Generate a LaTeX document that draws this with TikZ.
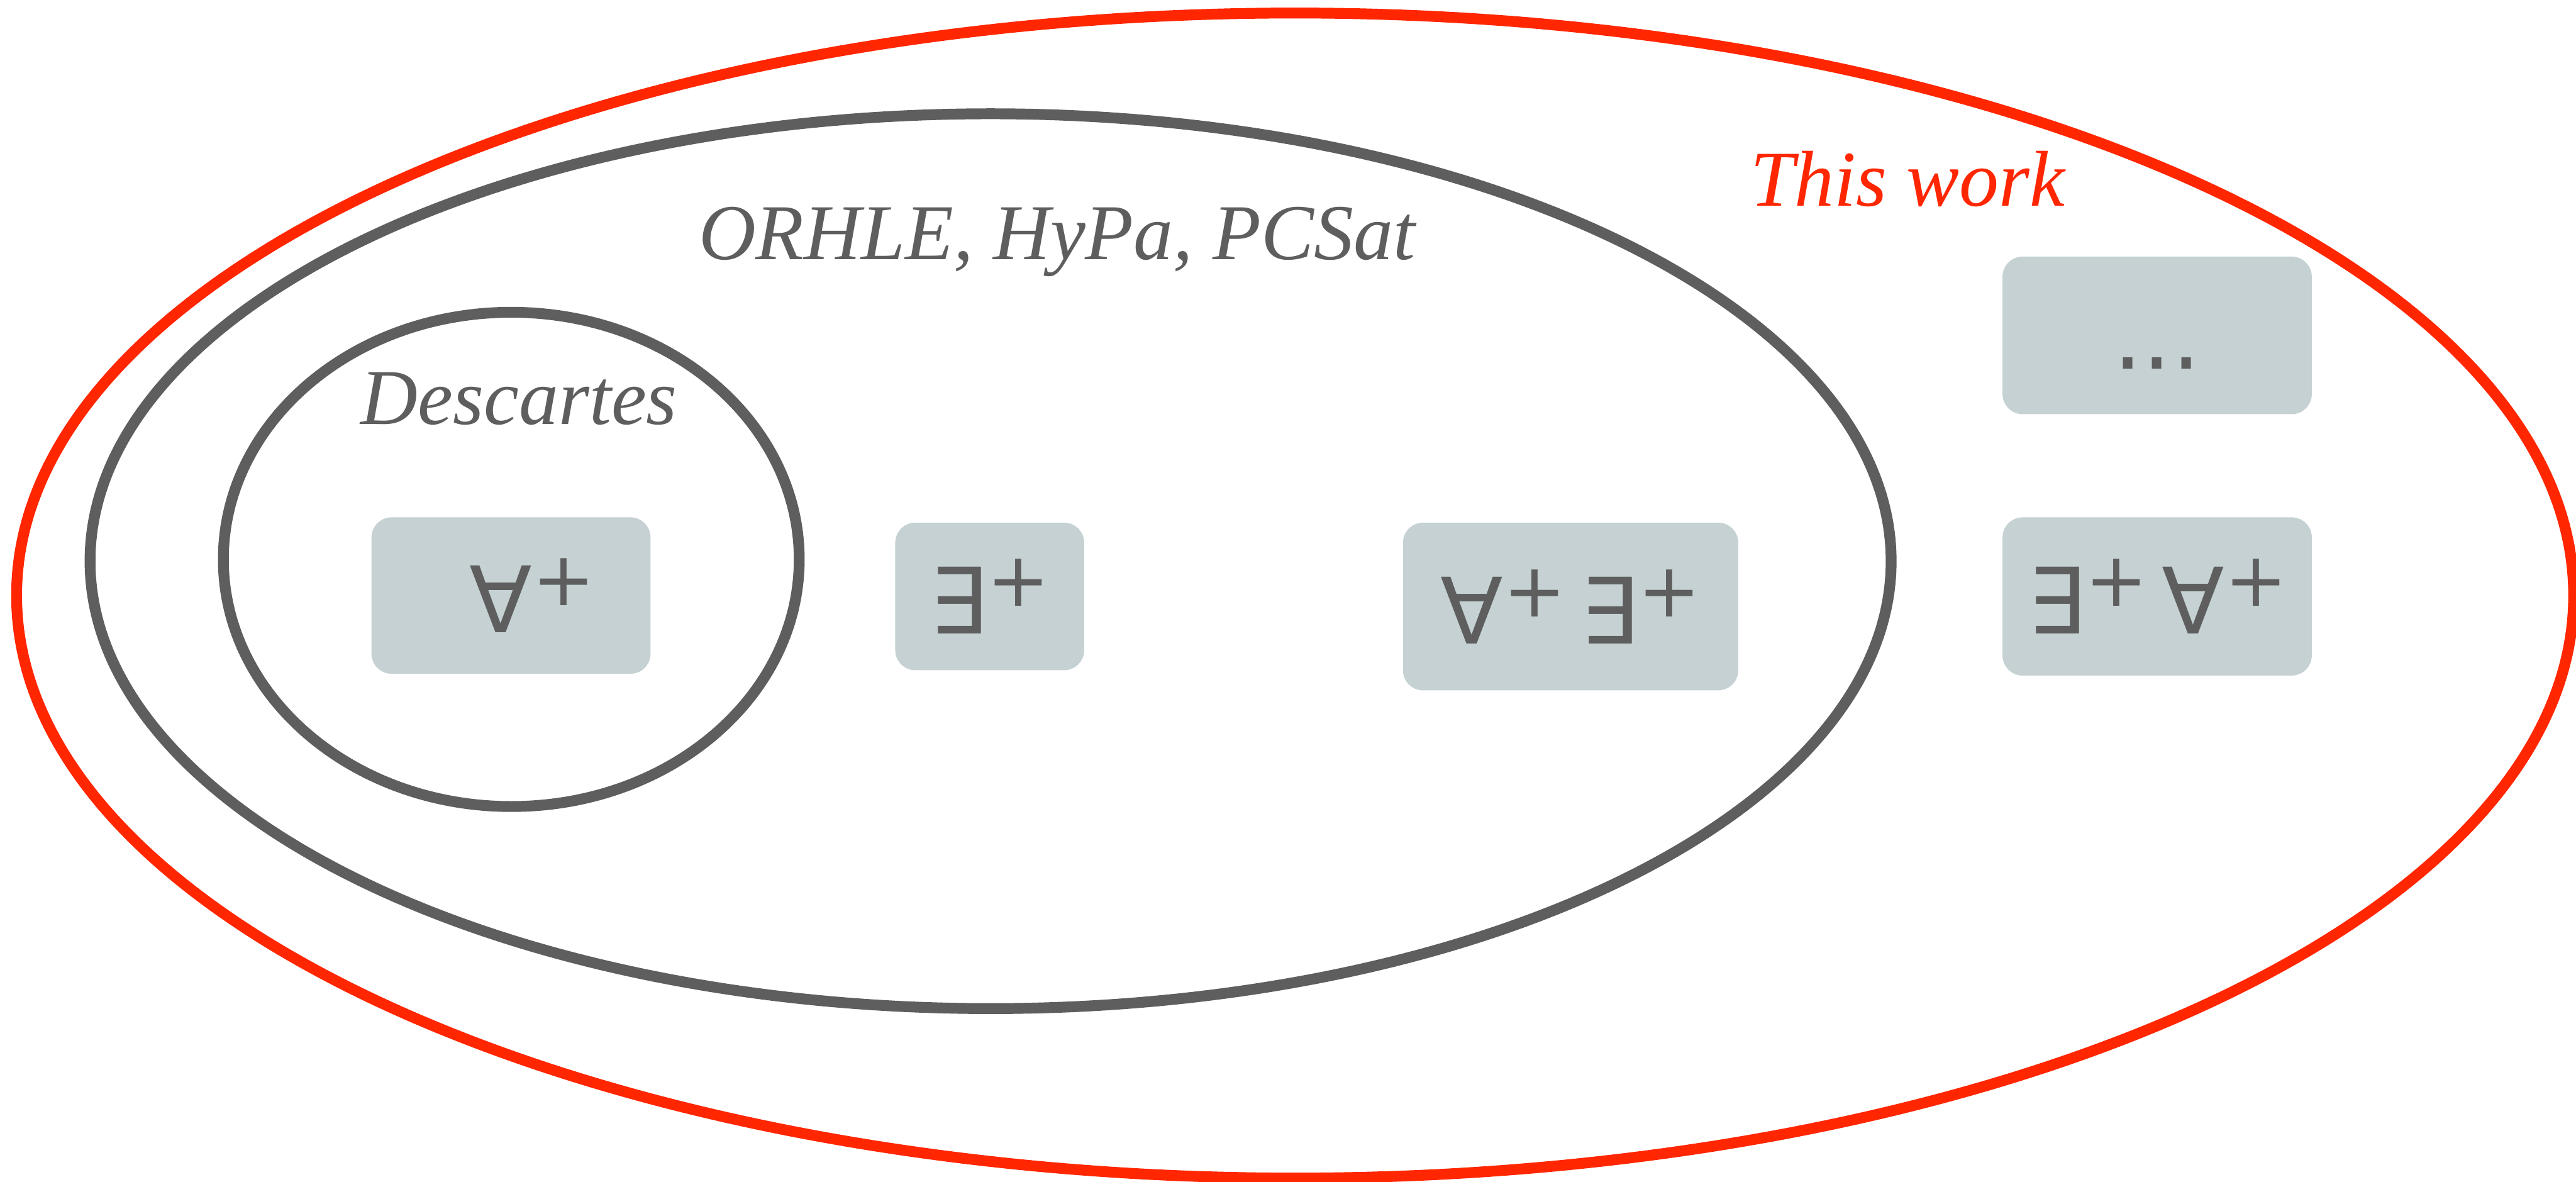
\documentclass[tikz,border=0pt]{standalone}
\usepackage{fontspec}
\setmainfont{Liberation Serif}
\newfontfamily\quantfont{DejaVu Sans}

\definecolor{linegrey}{HTML}{5E5E5E}
\definecolor{workred}{HTML}{FF2600}
\definecolor{boxfill}{HTML}{C5D1D3}

% raised plus after a quantifier
\newcommand{\qplus}{\raisebox{6.5pt}{\fontsize{18}{18}\selectfont +}}

\begin{document}
\begin{tikzpicture}[
    set/.style={draw=linegrey, line width=2.6pt},
    work/.style={draw=workred, line width=2.6pt},
    tool/.style={anchor=base, text=linegrey, font=\fontsize{19}{19}\selectfont\itshape},
    frag/.style={fill=boxfill, rounded corners=0.17cm, inner sep=0pt,
        text=linegrey, font=\quantfont\fontsize{22}{22}\selectfont}
]
    \useasboundingbox (0,0) rectangle (21.74,-9.97);

    % Nested classes (outer one is this work)
    \draw[work] (10.93,-5.025) ellipse (10.79 and 4.915);
    \draw[set] (8.36,-4.735) ellipse (7.60 and 3.775);
    \draw[set] (4.315,-4.72) ellipse (2.43 and 2.085);

    % Labels
    \node[tool] (tools) at (8.92,-2.19) {ORHLE, HyPa, PCSat};
    \node[tool] (descartes) at (4.38,-3.58) {Descartes};
    \node[tool, text=workred] (thiswork) at (16.1,-1.74) {This work};

    % Quantifier fragments
    \node[frag, minimum width=2.355cm, minimum height=1.32cm] (fa) at (4.3125,-5.025) {\hspace*{0.36cm}∀\qplus};
    \node[frag, minimum width=1.595cm, minimum height=1.245cm] (ex) at (8.3525,-5.0325) {∃\qplus};
    \node[frag, minimum width=2.83cm, minimum height=1.415cm] (faex) at (13.255,-5.1175) {∀\qplus\hspace{0.12cm}∃\qplus};
    \node[frag, minimum width=2.61cm, minimum height=1.335cm] (exfa) at (18.205,-5.0325) {∃\qplus\hspace{0.12cm}∀\qplus};
    \node[frag, minimum width=2.61cm, minimum height=1.33cm] (more) at (18.205,-2.83) {\vphantom{∃}...};

\end{tikzpicture}
\end{document}
